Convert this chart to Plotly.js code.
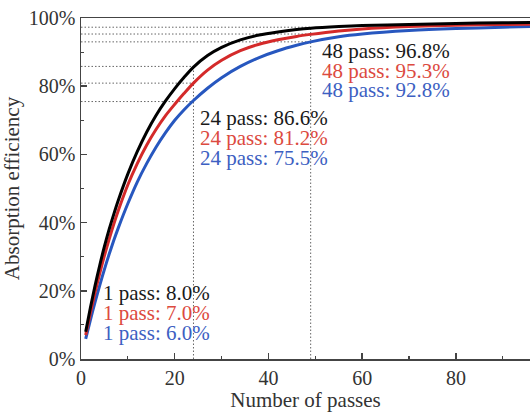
<!DOCTYPE html>
<html>
<head>
<meta charset="utf-8">
<script src="https://cdn.plot.ly/plotly-3.0.1.min.js"></script>
<style>html,body{margin:0;padding:0;background:#fff;overflow:hidden}#chart{width:530px;height:413px}</style>
</head>
<body>
<div id="chart"></div>
<script>
// Number of passes (sample points)
const passes = [1,2,3,4,5,6,7,8,10,12,14,16,18,20,22,24,27,30,34,38,42,46,49,55,60,70,80,90,96];
// Absorption efficiency (%)
const blackEff = [8.0,15.0,21.5,27.5,33.0,38.0,42.5,46.7,54.3,60.8,66.5,71.4,75.6,79.3,82.6,85.6,89.0,91.4,93.6,95.0,95.9,96.6,97.0,97.5,97.8,98.1,98.4,98.6,98.7];
const redEff   = [7.0,13.4,19.5,25.1,30.3,35.1,39.6,43.7,51.1,57.3,62.7,67.3,71.3,74.7,77.9,80.9,84.7,87.6,90.4,92.3,93.6,94.6,95.2,96.2,96.8,97.5,97.9,98.1,98.2];
const blueEff  = [5.9,11.4,16.7,21.6,26.3,30.7,34.8,38.6,45.6,51.9,57.3,62.1,66.3,70.0,73.1,75.8,79.4,82.5,85.8,88.4,90.4,92.0,93.0,94.5,95.3,96.3,96.9,97.3,97.5];

// Labelled pass counts and their quoted efficiencies
const labelPasses = [1, 24, 48];
const blackLabel = [8.0, 86.6, 96.8];
const redLabel   = [7.0, 81.2, 95.3];
const blueLabel  = [6.0, 75.5, 92.8];

// Axis ticks
const xTicks = [0, 20, 40, 60, 80];
const yTicks = [0, 20, 40, 60, 80, 100];
const yTickText = ['0%', '20%', '40%', '60%', '80%', '100%'];

// Dotted guide lines: x positions and the levels they mark (as drawn)
const guideX = [24, 49];
const guideLevels24 = [85.8, 80.9, 75.5];
const guideLevels48 = [97.3, 95.3, 93.0];

// Text anchor positions (data coords) for each label group
const labelX = [4.3, 24.9, 51.0];
const labelY = [[19.3, 13.4, 7.5], [70.7, 64.7, 58.9], [90.3, 84.6, 79.0]];

const colBlack = '#000000', colRed = '#d42a2a', colBlue = '#2757bf';
const txtBlack = '#1a1a1a', txtRed = '#dc4a40', txtBlue = '#3d5fc2';
const FONT = 'Liberation Serif, Times New Roman, serif';

// Build guide lines
const gx = [], gy = [];
const levelsAll = [guideLevels24, guideLevels48];
guideX.forEach((xv, i) => {
  levelsAll[i].forEach(l => { gx.push(0, xv, null); gy.push(l, l, null); });
  gx.push(xv, xv, null); gy.push(0, levelsAll[i][0], null);
});

const traces = [
  {x: gx, y: gy, mode: 'lines', line: {color: '#666', width: 1, dash: '1.5px,2px'}, hoverinfo: 'skip', showlegend: false},
  {x: passes, y: blueEff, mode: 'lines', line: {color: colBlue, width: 3, shape: 'spline', smoothing: 0.8}, showlegend: false},
  {x: passes, y: redEff, mode: 'lines', line: {color: colRed, width: 3, shape: 'spline', smoothing: 0.8}, showlegend: false},
  {x: passes, y: blackEff, mode: 'lines', line: {color: colBlack, width: 3, shape: 'spline', smoothing: 0.8}, showlegend: false}
];

const annotations = [];
labelPasses.forEach((p, i) => {
  const rows = [[blackLabel[i], txtBlack], [redLabel[i], txtRed], [blueLabel[i], txtBlue]];
  rows.forEach((r, j) => {
    annotations.push({
      x: labelX[i], y: labelY[i][j], xref: 'x', yref: 'y',
      xanchor: 'left', yanchor: 'middle', showarrow: false,
      text: p + ' pass: ' + r[0].toFixed(1) + '%',
      font: {family: FONT, size: 21, color: r[1]}
    });
  });
});

const axisCommon = {
  showline: true, linecolor: '#444', linewidth: 1.5,
  ticks: 'inside', ticklen: 6, tickwidth: 1.5, tickcolor: '#444',
  showgrid: false, zeroline: false,
  tickfont: {family: FONT, size: 20, color: '#333'}
};

const layout = {
  width: 530, height: 413,
  margin: {l: 81, r: 0, t: 18, b: 54},
  paper_bgcolor: '#fff', plot_bgcolor: '#fff',
  xaxis: Object.assign({}, axisCommon, {
    range: [0, 95.8], tickmode: 'array', tickvals: xTicks, mirror: true,
    minor: {ticks: 'inside', ticklen: 3, dtick: 10, tick0: 0, tickcolor: '#444', tickwidth: 1.2},
    title: {text: 'Number of passes', font: {family: FONT, size: 21, color: '#333'}, standoff: 4}
  }),
  yaxis: Object.assign({}, axisCommon, {
    range: [0, 100], tickmode: 'array', tickvals: yTicks, ticktext: yTickText,
    minor: {ticks: 'inside', ticklen: 3, dtick: 10, tick0: 0, tickcolor: '#444', tickwidth: 1.2},
    title: {text: 'Absorption efficiency', font: {family: FONT, size: 21, color: '#333'}, standoff: 4}
  }),
  annotations: annotations,
  showlegend: false
};

Plotly.newPlot('chart', traces, layout, {staticPlot: true, displayModeBar: false});
</script>
</body>
</html>
